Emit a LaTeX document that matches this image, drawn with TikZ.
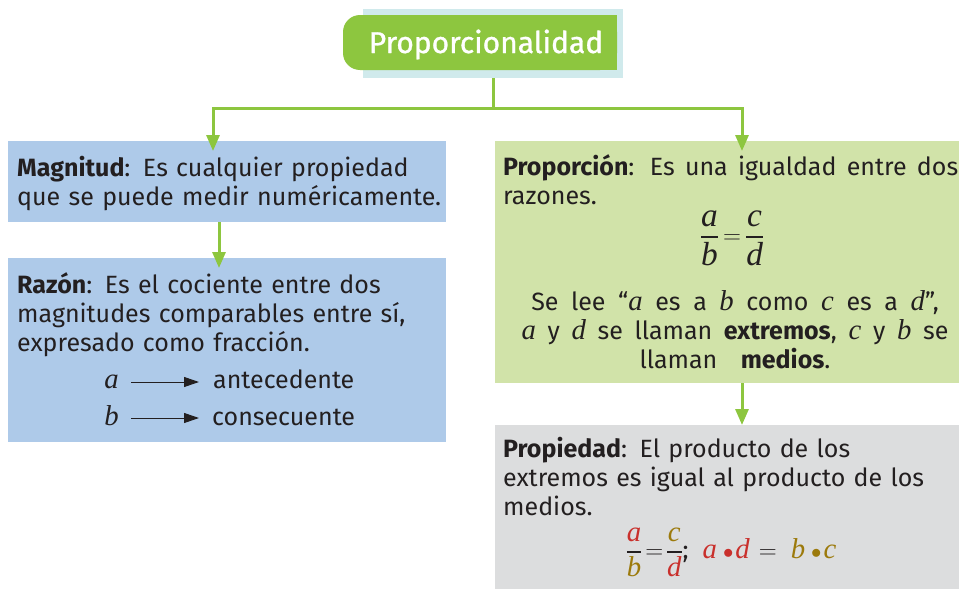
\documentclass[tikz,border=0pt]{standalone}
\usepackage{amsmath}
\usepackage{fontspec}
\setmainfont{Fira Sans}
\newfontfamily\varit{Liberation Serif}[Scale=1.15]
\newfontfamily\heading{Fira Sans}[FakeBold=1]
\usepackage{tikz}
\usetikzlibrary{positioning,arrows.meta}
\definecolor{leaf}{HTML}{8DC63F}
\definecolor{mist}{HTML}{D0EAEC}
\definecolor{sky}{HTML}{AECAE9}
\definecolor{sage}{HTML}{D1E3A9}
\definecolor{fog}{HTML}{DCDDDE}
\definecolor{ink}{HTML}{231F20}
\definecolor{extc}{HTML}{C9302C}
\definecolor{medc}{HTML}{9C7A0C}
\newcommand{\term}[1]{{\bfseries #1}}
\newcommand{\extr}[1]{\textcolor{extc}{#1}}
\newcommand{\medi}[1]{\textcolor{medc}{#1}}
\newcommand{\letra}[1]{\text{\varit\itshape #1}}
\newcommand{\letrag}[1]{\text{\fontsize{29}{29}\selectfont\varit\itshape #1}}
\newcommand{\fracc}[2]{\genfrac{}{}{1.5pt}{0}{#1}{#2}}
\newcommand{\bodysize}{\fontsize{25}{29}\selectfont\spaceskip=0.3em plus 0.2em minus 0.08em\relax}
\newcommand{\widespace}{\spaceskip=0.42em plus 0.2em minus 0.1em\relax}
\newcommand{\dotp}{\hspace{6pt}\text{\fontsize{21}{21}\selectfont$\bullet$}\hspace{2pt}}

\begin{document}
\begin{tikzpicture}[x=1pt,y=-1pt,font=\bodysize,text=ink,
  box/.style={anchor=north west,inner sep=0pt,outer sep=0pt},
  para/.style={anchor=base west,inner sep=0pt},
  flow/.style={leaf,line width=3pt,-{Triangle[length=16pt,width=13pt]}}]
\useasboundingbox (0,0) rectangle (959,589);
\node[box,fill=mist,minimum width=260pt,minimum height=69pt] (back) at (363,9) {};
\fill[leaf,rounded corners=17pt] (343,15) rectangle (617,70);
\fill[leaf] (480,15) rectangle (617,70);
\node[anchor=base,inner sep=0pt,text=white,font=\fontsize{30}{36}\heading] (title) at (486,53) {Proporcionalidad};
\node[box,fill=sky,minimum width=438pt,minimum height=81pt] (mag) at (8,141) {};
\node[box,fill=sky,minimum width=438pt,minimum height=184pt] (raz) at (8,258) {};
\node[box,fill=sage,minimum width=464pt,minimum height=242pt] (prop) at (495,141) {};
\node[box,fill=fog,minimum width=464pt,minimum height=164pt] (propi) at (495,425) {};
\node[para,text width=430pt,align=left] (magtxt) at (17,176)
  {\term{Magnitud}: Es cualquier propiedad\\que se puede medir numéricamente.};
\node[para,text width=430pt,align=left] (raztxt) at (17,293)
  {\term{Razón}: Es el cociente entre dos\\magnitudes comparables entre sí,\\expresado como fracción.};
\node[anchor=base east,inner sep=0pt] (ra) at (119,388) {\letra{a}};
\node[para] (ant) at (213,388) {antecedente};
\node[anchor=base east,inner sep=0pt] (rb) at (119,425) {\letra{b}};
\node[para] (cons) at (212,425) {consecuente};
\draw[ink,line width=1pt,-{Triangle[length=15pt,width=10pt]}] ([xshift=12pt,yshift=6pt]ra.base east) -- ([xshift=-14pt,yshift=6pt]ant.base west);
\draw[ink,line width=1pt,-{Triangle[length=15pt,width=10pt]}] ([xshift=12pt,yshift=7pt]rb.base east) -- ([xshift=-13pt,yshift=7pt]cons.base west);
\node[para,text width=455pt,align=justify] (proptxt) at (503,175)
  {\term{Proporción}: Es una igualdad entre dos\linebreak razones.};
\node[anchor=base,inner sep=0pt] (ratio) at (732,243) {$\fracc{\letrag{a}}{\letrag{b}}\mskip3mu{=}\mskip3mu\fracc{\letrag{c}}{\letrag{d}}$};
\node[anchor=base,inner sep=0pt,text width=450pt,align=center] (readtxt) at (735,310)
  {\widespace Se lee “\letra{a} es a \letra{b} como \letra{c} es a \letra{d}”,\\\letra{a} y \letra{d} se llaman \term{extremos}, \letra{c} y \letra{b} se\\llaman \term{medios}.};
\node[para,text width=440pt,align=left] (propitxt) at (503,457)
  {\term{Propiedad}: El producto de los\\extremos es igual al producto de los\\medios.};
\node[anchor=base,inner sep=0pt] (rule) at (731,558)
  {$\fracc{\extr{\letra{a}}}{\medi{\letra{b}}}\mskip2mu{=}\mskip2mu\fracc{\medi{\letra{c}}}{\extr{\letra{d}}}$;\hspace{14pt}\extr{$\letra{a}\dotp\letra{d}$}\hspace{9pt}$=$\hspace{14pt}\medi{$\letra{b}\dotp\letra{c}$}};
\coordinate (split) at (493,108);
\draw[leaf,line width=3pt] (back.south) -- (split);
\draw[flow,shorten >=-10pt] (split) -| ([xshift=-14pt]mag.north);
\draw[flow,shorten >=-10pt] (split) -| ([xshift=15pt]prop.north);
\draw[flow,shorten >=-10pt] ([xshift=-8pt]mag.south) -- ([xshift=-8pt]raz.north);
\draw[flow] ([xshift=15pt]prop.south) -- ([xshift=15pt]propi.north);
\end{tikzpicture}
\end{document}
